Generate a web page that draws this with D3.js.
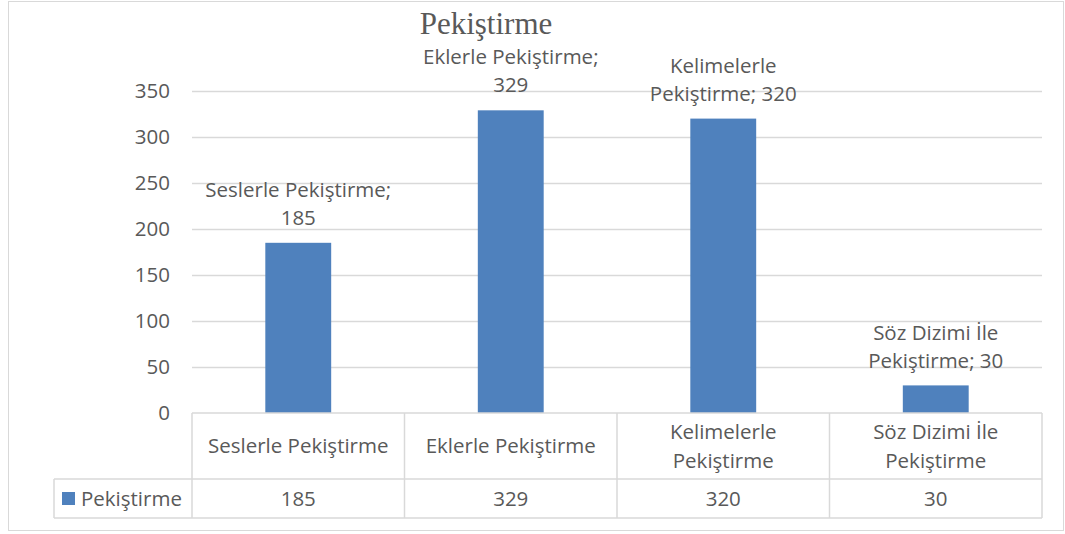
<!DOCTYPE html>
<html>
<head>
<meta charset="utf-8">
<script src="https://cdn.jsdelivr.net/npm/d3@7"></script>
<style>
  body { margin: 0; background: #fff; }
  text { font-family: "Open Sans", Lato, sans-serif; fill: #595959; }
</style>
</head>
<body>
<script>
var categories = ["Seslerle Pekiştirme", "Eklerle Pekiştirme", "Kelimelerle Pekiştirme", "Söz Dizimi İle Pekiştirme"];
var headerLines = [["Seslerle Pekiştirme"], ["Eklerle Pekiştirme"], ["Kelimelerle", "Pekiştirme"], ["Söz Dizimi İle", "Pekiştirme"]];
var labelLines = [["Seslerle Pekiştirme;", "185"], ["Eklerle Pekiştirme;", "329"], ["Kelimelerle", "Pekiştirme; 320"], ["Söz Dizimi İle", "Pekiştirme; 30"]];
var values = [185, 329, 320, 30];
var seriesName = "Pekiştirme";
var yTicks = [0, 50, 100, 150, 200, 250, 300, 350];

var W = 1065, H = 534;
var plotLeft = 192, plotRight = 1042, plotTop = 91, plotBottom = 413;
var rowSplit = 479, tableBottom = 518, legendLeft = 54;
var gridColor = "#d9d9d9";
var fs = "20.5px";

var svg = d3.select("body").append("svg")
    .attr("width", W)
    .attr("height", H);

// outer chart border
svg.append("rect")
    .attr("x", 8.5).attr("y", 1.5)
    .attr("width", 1055).attr("height", 529)
    .attr("fill", "none")
    .attr("stroke", gridColor);

var x = d3.scaleBand()
    .domain(categories)
    .range([plotLeft, plotRight]);
var y = d3.scaleLinear()
    .domain([0, 350])
    .range([plotBottom, plotTop]);

// gridlines
svg.append("g").selectAll("line")
    .data(yTicks.filter(function (d) { return d > 0; }))
    .enter().append("line")
    .attr("x1", plotLeft).attr("x2", plotRight)
    .attr("y1", function (d) { return Math.round(y(d)) + 0.5; })
    .attr("y2", function (d) { return Math.round(y(d)) + 0.5; })
    .attr("stroke", gridColor)
    .attr("stroke-width", 1.3);

// y tick labels
svg.append("g").selectAll("text")
    .data(yTicks)
    .enter().append("text")
    .attr("x", 170)
    .attr("y", function (d) { return y(d); })
    .attr("dy", "0.35em")
    .attr("text-anchor", "end")
    .style("font-size", fs)
    .text(function (d) { return d; });

// bars
var barW = x.bandwidth() * 0.31;
svg.append("g").selectAll("rect")
    .data(values)
    .enter().append("rect")
    .attr("x", function (d, i) { return x(categories[i]) + (x.bandwidth() - barW) / 2; })
    .attr("y", function (d) { return y(d); })
    .attr("width", barW)
    .attr("height", function (d) { return plotBottom - y(d); })
    .attr("fill", "#4f81bd");

// data labels
var labels = svg.append("g").selectAll("text")
    .data(values)
    .enter().append("text")
    .attr("text-anchor", "middle")
    .style("font-size", fs);
labels.each(function (d, i) {
    var cx = x(categories[i]) + x.bandwidth() / 2;
    var t = d3.select(this);
    labelLines[i].forEach(function (line, j) {
        t.append("tspan")
            .attr("x", cx)
            .attr("y", y(d) - 25 - (labelLines[i].length - 1 - j) * 28)
            .attr("dy", "0.35em")
            .text(line);
    });
});

// data table
var table = svg.append("g")
    .attr("stroke", gridColor)
    .attr("stroke-width", 1.5);
table.append("line").attr("x1", plotLeft).attr("x2", plotRight).attr("y1", plotBottom).attr("y2", plotBottom);
table.append("line").attr("x1", legendLeft).attr("x2", plotRight).attr("y1", rowSplit).attr("y2", rowSplit);
table.append("line").attr("x1", legendLeft).attr("x2", plotRight).attr("y1", tableBottom).attr("y2", tableBottom);
table.append("line").attr("x1", legendLeft).attr("x2", legendLeft).attr("y1", rowSplit).attr("y2", tableBottom);
table.selectAll(".vline")
    .data(categories.concat(["end"]))
    .enter().append("line")
    .attr("x1", function (d) { return d === "end" ? plotRight : x(d); })
    .attr("x2", function (d) { return d === "end" ? plotRight : x(d); })
    .attr("y1", plotBottom).attr("y2", tableBottom);

// header cells
var headers = svg.append("g").selectAll("text")
    .data(headerLines)
    .enter().append("text")
    .attr("text-anchor", "middle")
    .style("font-size", fs);
headers.each(function (lines, i) {
    var cx = x(categories[i]) + x.bandwidth() / 2;
    var mid = (plotBottom + rowSplit) / 2;
    var t = d3.select(this);
    lines.forEach(function (line, j) {
        t.append("tspan")
            .attr("x", cx)
            .attr("y", mid + (j - (lines.length - 1) / 2) * 29)
            .attr("dy", "0.35em")
            .text(line);
    });
});

// value cells
svg.append("g").selectAll("text")
    .data(values)
    .enter().append("text")
    .attr("x", function (d, i) { return x(categories[i]) + x.bandwidth() / 2; })
    .attr("y", (rowSplit + tableBottom) / 2)
    .attr("dy", "0.35em")
    .attr("text-anchor", "middle")
    .style("font-size", fs)
    .text(function (d) { return d; });

// legend key in table
svg.append("rect")
    .attr("x", 62).attr("y", 492)
    .attr("width", 13).attr("height", 13)
    .attr("fill", "#4f81bd");
svg.append("text")
    .attr("x", 81)
    .attr("y", (rowSplit + tableBottom) / 2)
    .attr("dy", "0.35em")
    .style("font-size", fs)
    .text(seriesName);

// title
svg.append("text")
    .attr("x", 486)
    .attr("y", 34)
    .attr("text-anchor", "middle")
    .style("font-family", "'Liberation Serif', 'DejaVu Serif', serif")
    .style("font-size", "31px")
    .text(seriesName);
</script>
</body>
</html>
